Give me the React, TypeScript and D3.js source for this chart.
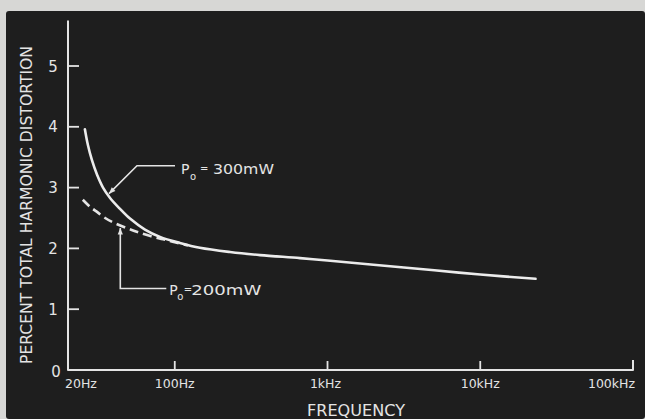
import React from 'react';
import * as d3 from 'd3';

// ---- data ----
const freqTickValues = [100, 1000, 10000, 100000];
const freqLabelValues = [20, 100, 1000, 10000, 100000];
const freqLabels = ['20Hz', '100Hz', '1kHz', '10kHz', '100kHz'];
const thdTickValues = [1, 2, 3, 4, 5];
const thdLabelValues = [0, 1, 2, 3, 4, 5];

const freq300 = [25.8, 27, 28.7, 31, 33.9, 37.7, 43.8, 50.9, 63.8, 80, 108, 146, 230, 362, 661, 1000, 2000, 5000, 10000, 23000];
const thd300 = [3.96, 3.7, 3.45, 3.21, 3.0, 2.83, 2.65, 2.49, 2.31, 2.19, 2.09, 2.01, 1.94, 1.89, 1.84, 1.8, 1.73, 1.64, 1.57, 1.5];

const freq200 = [25, 28, 31, 35, 40, 49, 57, 70, 84, 100, 122];
const thd200 = [2.8, 2.68, 2.6, 2.5, 2.42, 2.33, 2.27, 2.2, 2.15, 2.1, 2.05];

const label300 = '300mW';
const label200 = '200mW';
const ann300 = { freq: 36, thd: 2.9 };
const ann200 = { freq: 44, thd: 2.37, elbowThd: 1.34 };

const W = 645;
const H = 419;
const INK = '#e4e4e4';
const FONT = '"DejaVu Sans", sans-serif';

export default function App() {
  const x = d3.scaleLog().domain([20, 100000]).range([68, 633]);
  const y = d3.scaleLinear().domain([0, 5]).range([370, 66]);
  const line = d3
    .line<[number, number]>()
    .x((d) => x(d[0]))
    .y((d) => y(d[1]))
    .curve(d3.curveCatmullRom.alpha(0.5));

  const pts300 = freq300.map((f, i) => [f, thd300[i]] as [number, number]);
  const pts200 = freq200.map((f, i) => [f, thd200[i]] as [number, number]);

  const x0 = x(20);
  const y0 = y(0);
  const yTop = y(5.75);
  const xEnd = x(100000);

  const arrow = (tx: number, ty: number, fx: number, fy: number) => {
    const a = Math.atan2(ty - fy, tx - fx);
    const L = 7, w = 0.38;
    const p1 = [tx - L * Math.cos(a - w), ty - L * Math.sin(a - w)];
    const p2 = [tx - L * Math.cos(a + w), ty - L * Math.sin(a + w)];
    return `M${tx},${ty}L${p1[0]},${p1[1]}L${p2[0]},${p2[1]}Z`;
  };

  // annotation 300mW
  const t3x = x(ann300.freq) + 2;
  const t3y = y(ann300.thd);
  const e3x = t3x + 28;
  const e3y = t3y - 28;
  const h3x = e3x + 38;

  // annotation 200mW
  const t2x = x(ann200.freq);
  const t2y = y(ann200.thd) + 2;
  const e2y = y(ann200.elbowThd);
  const h2x = t2x + 46;

  return (
    <svg
      width={W}
      height={H}
      style={{ position: 'absolute', left: 0, top: 0, display: 'block' }}
      fontFamily={FONT}
    >
      <rect x={0} y={0} width={W} height={H} fill="#d7d7d5" />
      <rect x={6} y={11} width={W - 6} height={H - 11} rx={3} fill="#1e1e1e" />

      {/* axes */}
      <path
        d={`M${x0},${yTop}L${x0},${y0}L${xEnd},${y0}L${xEnd},${y0 - 10}`}
        fill="none"
        stroke={INK}
        strokeWidth={2}
        strokeLinejoin="round"
      />
      {thdTickValues.map((v) => (
        <line key={'yt' + v} x1={x0} x2={x0 + 11} y1={y(v)} y2={y(v)} stroke={INK} strokeWidth={1.8} />
      ))}
      {freqTickValues.slice(0, 3).map((f) => (
        <line key={'xt' + f} x1={x(f)} x2={x(f)} y1={y0} y2={y0 - 9} stroke={INK} strokeWidth={1.8} />
      ))}

      {/* y tick labels */}
      {thdLabelValues.map((v) => (
        <text
          key={'yl' + v}
          x={v === 0 ? 56 : 53}
          y={(v === 0 ? y0 + 1 : y(v)) + 5.5}
          textAnchor="middle"
          fontSize={15}
          fill={INK}
        >
          {v}
        </text>
      ))}

      {/* x tick labels */}
      {freqLabelValues.map((f, i) => {
        const last = i === freqLabelValues.length - 1;
        const anchor = i === 0 ? 'start' : last ? 'end' : 'middle';
        const xx = i === 0 ? x(f) - 3 : last ? x(f) + 2 : x(f) + (i === 2 ? -2 : 0);
        return (
          <text key={'xl' + f} x={xx} y={388} textAnchor={anchor} fontSize={12.5} fill={INK}>
            {freqLabels[i]}
          </text>
        );
      })}

      {/* axis titles */}
      <text x={356} y={416} textAnchor="middle" fontSize={15} fill={INK} textLength={98} lengthAdjust="spacingAndGlyphs">
        FREQUENCY
      </text>
      <text
        transform="translate(32,205) rotate(-90)"
        textAnchor="middle"
        fontSize={15}
        fill={INK}
        textLength={318}
        lengthAdjust="spacingAndGlyphs"
      >
        PERCENT TOTAL HARMONIC DISTORTION
      </text>

      {/* curves */}
      <path d={line(pts200) || ''} fill="none" stroke={INK} strokeWidth={2.6} strokeDasharray="9 5" />
      <path d={line(pts300) || ''} fill="none" stroke="#ececec" strokeWidth={2.6} strokeLinecap="round" />

      {/* annotation 300mW */}
      <path d={`M${t3x},${t3y}L${e3x},${e3y}L${h3x},${e3y}`} fill="none" stroke={INK} strokeWidth={1.6} />
      <path d={arrow(t3x, t3y, e3x, e3y)} fill={INK} />
      <text x={h3x + 6} y={e3y + 8} fontSize={14} fill={INK}>P</text>
      <text x={h3x + 15} y={e3y + 14} fontSize={10} fill={INK}>o</text>
      <text x={h3x + 25} y={e3y + 6} fontSize={10} fill={INK}>=</text>
      <text x={h3x + 38} y={e3y + 8} fontSize={14} fill={INK} textLength={61} lengthAdjust="spacingAndGlyphs">
        {label300}
      </text>

      {/* annotation 200mW */}
      <path d={`M${t2x},${t2y}L${t2x},${e2y}L${h2x},${e2y}`} fill="none" stroke={INK} strokeWidth={1.6} />
      <path d={arrow(t2x, t2y, t2x, e2y)} fill={INK} />
      <text x={h2x + 3} y={e2y + 6} fontSize={14} fill={INK}>P</text>
      <text x={h2x + 11} y={e2y + 11} fontSize={10} fill={INK}>o</text>
      <text x={h2x + 17.5} y={e2y + 4} fontSize={10} fill={INK}>=</text>
      <text x={h2x + 25} y={e2y + 6} fontSize={14} fill={INK} textLength={70} lengthAdjust="spacingAndGlyphs">
        {label200}
      </text>
    </svg>
  );
}
